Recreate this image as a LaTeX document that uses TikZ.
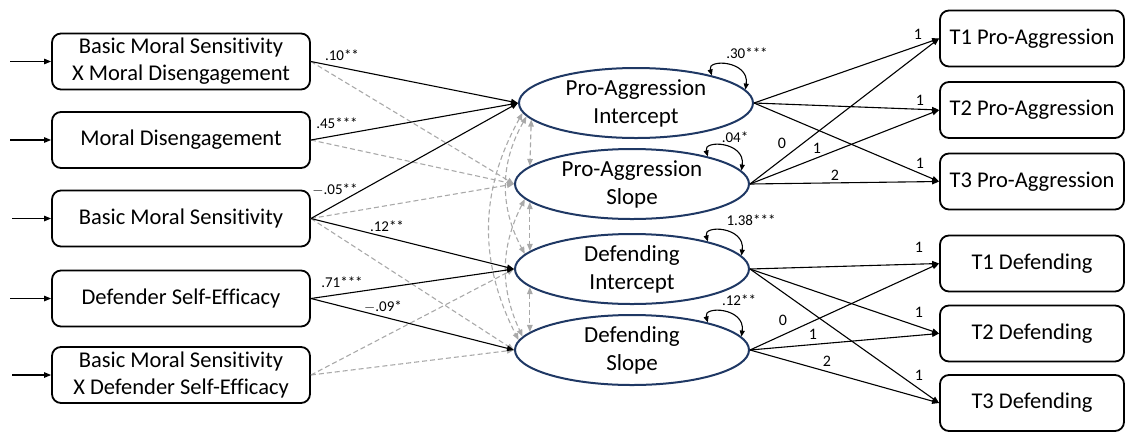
\documentclass[tikz,border=0pt]{standalone}
\usepackage{fontspec}
\setmainfont{Carlito}[Ligatures=NoCommon]
\usetikzlibrary{arrows.meta,shapes.geometric,calc}
\definecolor{navy}{HTML}{1F3864}
\definecolor{lgray}{HTML}{A9A9A9}
\begin{document}
\begin{tikzpicture}[x=1pt,y=-1pt,
  obs/.style={draw=black,line width=1.8pt,rounded corners=9pt,minimum height=56pt,inner sep=0pt,align=center,font=\fontsize{22.5}{27}\selectfont},
  lbox/.style={obs,minimum width=258pt},
  rbox/.style={obs,minimum width=184pt},
  lat/.style={ellipse,draw=navy,line width=2pt,minimum width=234pt,minimum height=70pt,inner sep=0pt,align=center,font=\fontsize{23}{28}\selectfont},
  arr/.style={line width=1.1pt,-{Triangle[length=7pt,width=5.5pt]}},
  garr/.style={draw=lgray,dash pattern=on 5pt off 3pt,line width=1.1pt,-{Triangle[length=7pt,width=5.5pt]}},
  cov/.style={draw=lgray,dash pattern=on 5pt off 3pt,line width=1.1pt,{Triangle[length=7pt,width=5.5pt]}-{Triangle[length=7pt,width=5.5pt]}},
  varr/.style={line width=1.1pt,{Triangle[length=6pt,width=5pt]}-{Triangle[length=6pt,width=5pt]}},
  coef/.style={font=\fontsize{15}{15}\selectfont,inner sep=0pt},
  load/.style={font=\fontsize{16}{16}\selectfont,inner sep=0pt}
]
\useasboundingbox (0,0) rectangle (1127,432);

% observed predictors
\node[lbox] (b1) at (181,61.5) {Basic Moral Sensitivity\\X Moral Disengagement};
\node[lbox] (b2) at (181,140) {Moral Disengagement};
\node[lbox] (b3) at (181,218.5) {Basic Moral Sensitivity};
\node[lbox] (b4) at (181,298.5) {Defender Self-Efficacy};
\node[lbox] (b5) at (181,375) {Basic Moral Sensitivity\\X Defender Self-Efficacy};

\coordinate (i1) at (10,61.5);
\coordinate (i2) at (10,140);
\coordinate (i3) at (12,218.5);
\coordinate (i4) at (10,298.5);
\coordinate (i5) at (12,375);
\foreach \k in {1,...,5} \draw[arr] (i\k) -- (b\k.west);

% latent factors
\node[lat] (pai) at (636,103) {Pro-Aggression\\Intercept};
\node[lat] (pas) at (632,184) {Pro-Aggression\\Slope};
\node[lat] (dai) at (632,269) {Defending\\Intercept};
\node[lat] (das) at (632,350) {Defending\\Slope};

% indicators
\node[rbox] (t1p) at (1032,38.5) {T1 Pro-Aggression};
\node[rbox] (t2p) at (1032,110) {T2 Pro-Aggression};
\node[rbox] (t3p) at (1032,181.5) {T3 Pro-Aggression};
\node[rbox] (t1d) at (1032,263.5) {T1 Defending};
\node[rbox] (t2d) at (1032,333.5) {T2 Defending};
\node[rbox] (t3d) at (1032,403) {T3 Defending};

% nonsignificant paths (gray dashed)
\draw[garr] (b1.east) -- (pas.west);
\draw[garr] (b2.east) -- (pas.west);
\draw[garr] (b3.east) -- (pas.west);
\draw[garr] (b3.east) -- (das.west);
\draw[garr] (b5.east) -- (dai.west);
\draw[garr] (b5.east) -- (das.west);

% covariances
\draw[cov] (pai.189) -- (pas.170);
\draw[cov] (pas.190) -- (dai.170);
\draw[cov] (dai.190) -- (das.170);
\draw[cov] (pai.185) to[bend right=28] (das.175);
\draw[cov] (pai.187) to[bend right=29] (dai.172);
\draw[cov] (pas.188) to[bend right=26] (das.173);

% significant paths
\draw[arr] (b1.east) -- (pai.west);
\draw[arr] (b2.east) -- (pai.west);
\draw[arr] (b3.east) -- (pai.west);
\draw[arr] (b3.east) -- (dai.west);
\draw[arr] (b4.east) -- (dai.west);
\draw[arr] (b4.east) -- (das.west);

\node[coef] (c1) at (342,55) {.10**};
\node[coef] (c2) at (337,123) {.45***};
\node[coef] (c3) at (335,190) {$-$.05**};
\node[coef] (c4) at (387,226) {.12**};
\node[coef] (c5) at (342,282) {.71***};
\node[coef] (c6) at (383,307) {$-$.09*};

% variances
\foreach \n in {pai,pas,dai,das}
  \draw[varr] (\n.20) .. controls +(-5,-17) and +(4,-29) .. (\n.7);
\node[coef] (v1) at (747,53) {.30***};
\node[coef] (v2) at (735,137) {.04*};
\node[coef] (v3) at (751,220) {1.38***};
\node[coef] (v4) at (739,300) {.12**};

% loadings
\draw[arr] (pai.east) -- (t1p.west);
\draw[arr] (pai.east) -- (t2p.west);
\draw[arr] (pai.east) -- (t3p.west);
\draw[arr] (pas.east) -- (t1p.west);
\draw[arr] (pas.east) -- (t2p.west);
\draw[arr] (pas.east) -- (t3p.west);
\draw[arr] (dai.east) -- (t1d.west);
\draw[arr] (dai.east) -- (t2d.west);
\draw[arr] (dai.east) -- (t3d.west);
\draw[arr] (das.east) -- (t1d.west);
\draw[arr] (das.east) -- (t2d.west);
\draw[arr] (das.east) -- (t3d.west);

\node[load] (l1) at (918,34) {1};
\node[load] (l2) at (920,100) {1};
\node[load] (l3) at (920,163) {1};
\node[load] (l4) at (782,143) {0};
\node[load] (l5) at (817,148) {1};
\node[load] (l6) at (835,175) {2};
\node[load] (l7) at (919,247) {1};
\node[load] (l8) at (919,312) {1};
\node[load] (l9) at (919,375) {1};
\node[load] (l10) at (783,320) {0};
\node[load] (l11) at (813,334) {1};
\node[load] (l12) at (827,361) {2};
\end{tikzpicture}
\end{document}
